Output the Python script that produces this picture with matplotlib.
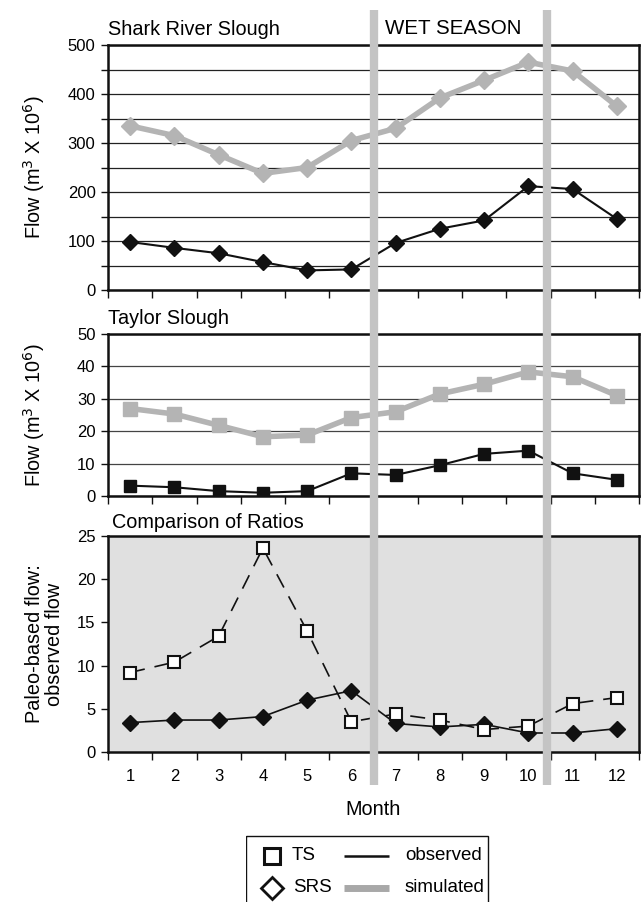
import matplotlib
matplotlib.use("Agg")
import matplotlib.pyplot as plt
from matplotlib.transforms import blended_transform_factory
from matplotlib.lines import Line2D
from matplotlib.patches import Rectangle

plt.rcParams['font.family'] = ['Liberation Sans', 'DejaVu Sans']

months = list(range(1, 13))
month_labels = [str(m) for m in months]

srs_simulated = [335, 315, 276, 238, 250, 305, 330, 392, 428, 465, 447, 375]
srs_observed = [98, 86, 75, 57, 40, 42, 96, 125, 142, 212, 206, 145]

ts_simulated = [27, 25.3, 21.8, 18.3, 18.8, 24.2, 26, 31.5, 34.5, 38.3, 36.8, 31]
ts_observed = [3.2, 2.7, 1.5, 1.0, 1.5, 7.0, 6.5, 9.5, 13.0, 14.0, 7.0, 5.0]

ratio_ts = [9.2, 10.4, 13.4, 23.6, 14.0, 3.5, 4.4, 3.7, 2.6, 3.0, 5.6, 6.3]
ratio_srs = [3.4, 3.7, 3.7, 4.1, 6.0, 7.1, 3.3, 2.9, 3.2, 2.2, 2.2, 2.7]

wet_season_bounds = [6.5, 10.43]

W, H = 644, 902
fig = plt.figure(figsize=(W / 100, H / 100), dpi=100)

def rect(l, t, r, b):
    return [l / W, 1 - b / H, (r - l) / W, (b - t) / H]

ax1 = fig.add_axes(rect(108, 45, 639, 290))
ax2 = fig.add_axes(rect(108, 334, 639, 496))
ax3 = fig.add_axes(rect(108, 536, 639, 752))

BLACK = '#111111'
SIMGRAY = '#b4b4b4'
FS = 12
TFS = 14.3

for ax in (ax1, ax2, ax3):
    ax.set_xlim(0.5, 12.5)
    ax.set_xticks([m + 0.5 for m in range(0, 13)])
    ax.set_xticklabels([])
    ax.tick_params(axis='x', direction='out', length=6, width=1, color=BLACK)
    ax.tick_params(axis='y', direction='out', length=5, width=1, color=BLACK, labelsize=FS, pad=4)
    for s in ax.spines.values():
        s.set_linewidth(1.8)
        s.set_color(BLACK)
    ax.set_axisbelow(True)

# Panel 1: Shark River Slough
ax1.set_ylim(0, 500)
ax1.set_yticks([0, 100, 200, 300, 400, 500])
ax1.set_yticks([50, 150, 250, 350, 450], minor=True)
ax1.tick_params(axis='y', which='minor', direction='out', length=5, width=1, color=BLACK)
ax1.grid(axis='y', which='both', color='#222222', linewidth=0.9)
ax1.plot(months, srs_simulated, color=SIMGRAY, lw=4, marker='D', ms=9.5, zorder=3)
ax1.plot(months, srs_observed, color=BLACK, lw=1.5, marker='D', ms=8, zorder=4)
ax1.set_ylabel('Flow (m$^3$ X 10$^6$)', fontsize=TFS)
ax1.yaxis.set_label_coords(-0.114, 0.5)
ax1.text(0.0, 1.025, 'Shark River Slough', transform=ax1.transAxes, fontsize=TFS, ha='left', va='bottom')

# Panel 2: Taylor Slough
ax2.set_ylim(0, 50)
ax2.set_yticks([0, 10, 20, 30, 40, 50])
ax2.grid(axis='y', color='#444444', linewidth=0.9)
ax2.plot(months, ts_simulated, color=SIMGRAY, lw=4, marker='s', ms=10, zorder=3)
ax2.plot(months, ts_observed, color=BLACK, lw=1.5, marker='s', ms=8, zorder=4)
ax2.set_ylabel('Flow (m$^3$ X 10$^6$)', fontsize=TFS)
ax2.yaxis.set_label_coords(-0.114, 0.5)
ax2.text(0.0, 1.035, 'Taylor Slough', transform=ax2.transAxes, fontsize=TFS, ha='left', va='bottom')

# Panel 3: Comparison of ratios
ax3.set_facecolor('#e0e0e0')
ax3.set_ylim(0, 25)
ax3.set_yticks([0, 5, 10, 15, 20, 25])
ax3.plot(months, ratio_ts, color=BLACK, lw=1.2, ls=(0, (9, 6)), marker='s', ms=8,
         mfc='white', mec=BLACK, mew=1.5, zorder=4)
ax3.plot(months, ratio_srs, color=BLACK, lw=1.2, marker='D', ms=8, zorder=3)
ax3.set_xticks(months, minor=True)
ax3.set_xticklabels(month_labels, minor=True)
ax3.tick_params(axis='x', which='minor', length=0, labelsize=FS, pad=12)
ax3.set_ylabel('Paleo-based flow:\nobserved flow', fontsize=TFS, linespacing=1.05)
ax3.yaxis.set_label_coords(-0.083, 0.5)
ax3.text(0.008, 1.02, 'Comparison of Ratios', transform=ax3.transAxes, fontsize=TFS, ha='left', va='bottom')
ax3.set_xlabel('Month', fontsize=TFS, labelpad=12)

# Wet season vertical bands spanning all panels
trans = blended_transform_factory(ax1.transData, fig.transFigure)
for xb in wet_season_bounds:
    fig.add_artist(Line2D([xb, xb], [1 - 10 / H, 1 - 785 / H], transform=trans,
                          color='#c4c4c4', lw=6, solid_capstyle='butt', zorder=10))
fig.text(0.5 * (385 + 522) / W, 1 - 28 / H, 'WET SEASON', fontsize=14.8, ha='center', va='center')

# Legend
LR = 488
lax = fig.add_axes([246 / W, -0.02, (LR + 2 - 246) / W, (902 - 835) / H + 0.02])
lax.set_xlim(246, LR + 2)
lax.set_ylim(902 + 0.02 * H, 835)
lax.axis('off')
lax.add_patch(Rectangle((246.5, 835.5), LR - 246.5, 100, fill=False, ec=BLACK, lw=1.0))
lax.plot([272], [856], marker='s', ms=11.5, mfc='white', mec=BLACK, mew=2.2, ls='none')
lax.plot([272], [888], marker='D', ms=11.5, mfc='white', mec=BLACK, mew=2.0, ls='none')
lax.text(292, 856, 'TS', fontsize=13.5, va='center', ha='left')
lax.text(293, 888, 'SRS', fontsize=13.5, va='center', ha='left')
lax.plot([344, 389], [856, 856], color=BLACK, lw=1.8, solid_capstyle='butt')
lax.plot([344, 389], [888, 888], color='#a8a8a8', lw=5, solid_capstyle='butt')
lax.text(405, 856, 'observed', fontsize=13.5, va='center', ha='left')
lax.text(405, 888, 'simulated', fontsize=13.5, va='center', ha='left')

fig.savefig('out.png', dpi=100)
